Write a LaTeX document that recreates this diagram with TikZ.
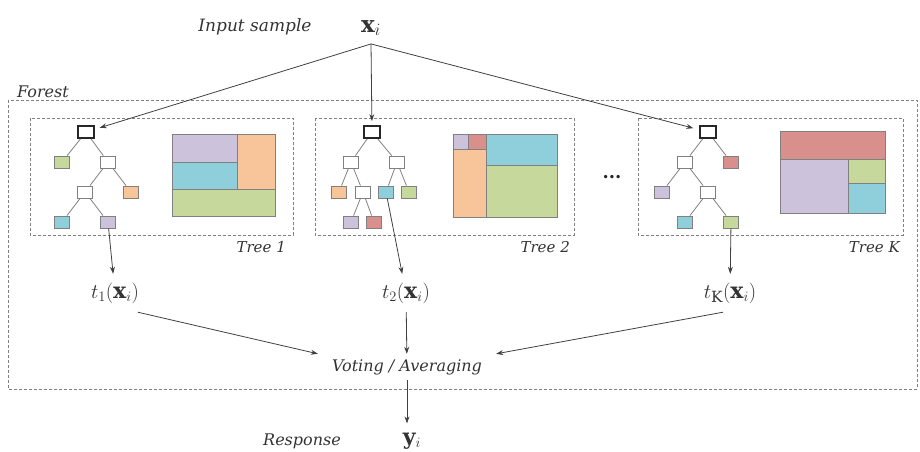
\documentclass[tikz,border=0pt]{standalone}
\usepackage{fontspec}
\setmainfont{DejaVu Serif}
\usetikzlibrary{arrows.meta}
\definecolor{cgreen}{HTML}{C6D89C}
\definecolor{cpurple}{HTML}{CDC2DC}
\definecolor{cblue}{HTML}{8FCFDC}
\definecolor{corange}{HTML}{F8C49A}
\definecolor{cred}{HTML}{D9908D}
\definecolor{bord}{HTML}{808080}
\definecolor{txt}{HTML}{333333}
\begin{document}
\begin{tikzpicture}[x=1pt,y=-1pt,
  lbl/.style={font=\itshape\fontsize{16}{18}\selectfont, text=txt, inner sep=0pt},
  leaf/.style={draw=bord, line width=0.8pt, minimum width=15pt, minimum height=12pt, inner sep=0pt},
  rootn/.style={draw=black!85, fill=white, line width=1.8pt, minimum width=16pt, minimum height=12pt, inner sep=0pt},
  tedge/.style={draw=bord, line width=0.8pt},
  arr/.style={draw=black!75, line width=0.8pt, -{Stealth[length=7pt,width=5pt]}},
  dbox/.style={draw=bord, dash pattern=on 3pt off 2pt, line width=0.9pt},
  part/.style={draw=bord, line width=0.9pt},
  tnode/.style={inner sep=0pt, minimum height=38pt, minimum width=58pt, text=txt, font=\fontsize{22}{24}\selectfont}
]
\useasboundingbox (0,0) rectangle (920,451);

% forest box and label
\draw[dbox] (8,100) rectangle (917,389);
\node[lbl, anchor=base west] (forest) at (17,97) {Forest};

% input
\node[lbl, anchor=base, font=\itshape\fontsize{17}{19}\selectfont] (insample) at (255,31) {Input sample};
\node[anchor=base, inner xsep=0pt, inner ysep=8pt, text=txt, font=\fontsize{23}{25}\selectfont] (xi) at (371,32) {$\mathbf{x}_i$};

% tree boxes
\draw[dbox] (30,118) rectangle (293,235);
\draw[dbox] (315,118) rectangle (574,235);
\draw[dbox] (638,118) rectangle (903,235);
\node[lbl, anchor=east, font=\itshape\fontsize{15}{17}\selectfont] (lt1) at (286,247) {Tree 1};
\node[lbl, anchor=east, font=\itshape\fontsize{15}{17}\selectfont] (lt2) at (570,247) {Tree 2};
\node[lbl, anchor=east, font=\itshape\fontsize{15}{17}\selectfont] (ltk) at (900,247) {Tree K};
\node[font=\bfseries\fontsize{18}{20}\selectfont, text=black!85] (dots) at (612,177) {...};

% tree 1
\node[rootn] (a0) at (86,132) {};
\node[leaf, fill=cgreen] (a1) at (62,162) {};
\node[leaf, fill=white] (a2) at (108,162) {};
\node[leaf, fill=white] (a3) at (85,192) {};
\node[leaf, fill=corange] (a4) at (131,192) {};
\node[leaf, fill=cblue] (a5) at (62,222) {};
\node[leaf, fill=cpurple] (a6) at (108,222) {};
\draw[tedge] (a0) -- (a1) (a0) -- (a2) (a2) -- (a3) (a2) -- (a4) (a3) -- (a5) (a3) -- (a6);

% tree 2
\node[rootn] (b0) at (372,132) {};
\node[leaf, fill=white] (b1) at (351,162) {};
\node[leaf, fill=white] (b2) at (397,162) {};
\node[leaf, fill=corange] (b3) at (339,192) {};
\node[leaf, fill=white] (b4) at (363,192) {};
\node[leaf, fill=cblue] (b5) at (386,192) {};
\node[leaf, fill=cgreen] (b6) at (409,192) {};
\node[leaf, fill=cpurple] (b7) at (351,222) {};
\node[leaf, fill=cred] (b8) at (374,222) {};
\draw[tedge] (b0) -- (b1) (b0) -- (b2) (b1) -- (b3) (b1) -- (b4) (b2) -- (b5) (b2) -- (b6) (b4) -- (b7) (b4) -- (b8);

% tree K
\node[rootn] (c0) at (708,132) {};
\node[leaf, fill=white] (c1) at (685,162) {};
\node[leaf, fill=cred] (c2) at (731,162) {};
\node[leaf, fill=cpurple] (c3) at (662,192) {};
\node[leaf, fill=white] (c4) at (708,192) {};
\node[leaf, fill=cblue] (c5) at (685,222) {};
\node[leaf, fill=cgreen] (c6) at (731,222) {};
\draw[tedge] (c0) -- (c1) (c0) -- (c2) (c1) -- (c3) (c1) -- (c4) (c4) -- (c5) (c4) -- (c6);

% partitions
\filldraw[part, fill=cpurple] (172,134) rectangle (237,162);
\filldraw[part, fill=cblue] (172,162) rectangle (237,189);
\filldraw[part, fill=corange] (237,134) rectangle (275,189);
\filldraw[part, fill=cgreen] (172,189) rectangle (275,216);

\filldraw[part, fill=cpurple] (453,134) rectangle (468,149);
\filldraw[part, fill=cred] (468,134) rectangle (486,149);
\filldraw[part, fill=corange] (453,149) rectangle (486,217);
\filldraw[part, fill=cblue] (486,134) rectangle (557,165);
\filldraw[part, fill=cgreen] (486,165) rectangle (557,217);

\filldraw[part, fill=cred] (780,131) rectangle (885,159);
\filldraw[part, fill=cpurple] (780,159) rectangle (848,213);
\filldraw[part, fill=cgreen] (848,159) rectangle (885,183);
\filldraw[part, fill=cblue] (848,183) rectangle (885,213);

% outputs
\node[tnode] (t1) at (115,293) {$t_1(\mathbf{x}_i)$};
\node[tnode] (t2) at (406,293) {$t_2(\mathbf{x}_i)$};
\node[tnode] (tK) at (730,293) {$t_{\mathrm{K}}(\mathbf{x}_i)$};
\node[lbl, inner xsep=14pt, minimum height=26pt] (vote) at (407,367) {Voting / Averaging};
\node[lbl, anchor=base, font=\itshape\fontsize{16}{18}\selectfont] (resp) at (302,445) {Response};
\node[anchor=base, inner xsep=0pt, inner ysep=9pt, text=txt, font=\fontsize{22}{24}\selectfont] (yi) at (412,444) {$\mathbf{y}_i$};

% connectors
\draw[arr, shorten >=5pt] (xi.south) -- (a0);
\draw[arr, shorten >=4pt] (xi.south) -- (b0);
\draw[arr, shorten >=6pt] (xi.south) -- (c0);
\draw[arr] (a6) -- (t1);
\draw[arr] (b5) -- (t2);
\draw[arr] (c6) -- (tK);
\draw[arr] (t1.-40) -- (vote.north west);
\draw[arr] (t2) -- (vote);
\draw[arr] (tK.-110) -- (vote.north east);
\draw[arr] (vote.south) -- (vote.south |- yi.north);
\end{tikzpicture}
\end{document}
